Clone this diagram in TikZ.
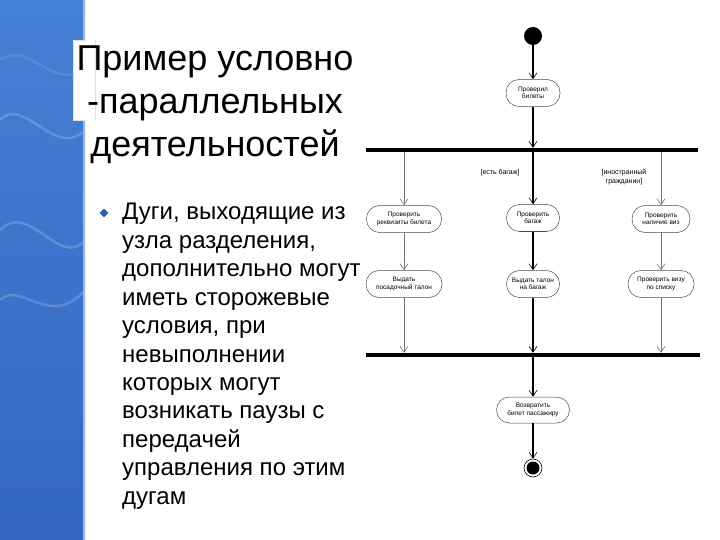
\documentclass[tikz,border=0pt]{standalone}
\usepackage{fontspec}
\setmainfont{Liberation Sans}
\usetikzlibrary{arrows.meta,shapes.geometric}
\definecolor{panelTop}{RGB}{70,128,212}
\definecolor{panelBot}{RGB}{52,102,192}
\definecolor{panelEdge}{RGB}{150,185,230}
\definecolor{bulletBlue}{RGB}{45,95,185}
\begin{document}
\begin{tikzpicture}[x=1pt,y=-1pt,
  act/.style={draw=black!70, line width=0.5pt, rounded corners=13pt, minimum height=27pt,
    align=center, font=\fontsize{6.5}{7.5}\selectfont, inner sep=1pt, fill=white},
  flow/.style={draw=black!55, line width=0.6pt, -{Straight Barb[length=6pt,width=8pt]}},
  trunk/.style={draw=black, line width=1.2pt, -{Straight Barb[length=6pt,width=8pt,line width=0.6pt]}},
  syncbar/.style={fill=black, inner sep=0pt, minimum height=4pt},
  guard/.style={font=\fontsize{7}{8.5}\selectfont, align=center, inner sep=1pt},
  titleline/.style={font=\fontsize{36}{40}\selectfont, anchor=base},
  bodyline/.style={font=\fontsize{24}{28}\selectfont, anchor=base west, inner sep=0pt},
  wave/.style={white, opacity=0.18, line width=2.5pt}
]
\useasboundingbox (0,0) rectangle (720,540);
\fill[white] (0,0) rectangle (720,540);
% left blue panel
\shade[top color=panelTop, bottom color=panelBot] (0,0) rectangle (85,540);
\draw[wave] (0,120) .. controls (25,95) and (55,160) .. (85,130);
\draw[wave] (0,230) .. controls (30,200) and (60,270) .. (85,240);
\draw[wave] (0,300) .. controls (20,280) and (50,330) .. (85,290);
\draw[wave, opacity=0.1] (0,60) .. controls (30,40) and (50,90) .. (85,70);
\draw[panelEdge, line width=1.5pt] (84,0) -- (84,540);
% title box
\fill[white, draw=black!12] (73,40) rectangle (95,120);
\fill[white] (86,0) rectangle (95,540);
% title
\node[titleline] (t1) at (215,71) {Пример условно};
\node[titleline] (t2) at (215,114) {-параллельных};
\node[titleline] (t3) at (215,157) {деятельностей};
% bullet
\node[diamond, fill=bulletBlue, minimum width=9pt, minimum height=9pt, inner sep=0pt] (bul) at (104,213) {};
\node[bodyline] (b01) at (122,220) {Дуги, выходящие из};
\node[bodyline] (b02) at (122,248.4) {узла разделения,};
\node[bodyline] (b03) at (122,276.8) {дополнительно могут};
\node[bodyline] (b04) at (122,305.2) {иметь сторожевые};
\node[bodyline] (b05) at (122,333.6) {условия, при};
\node[bodyline] (b06) at (122,362) {невыполнении};
\node[bodyline] (b07) at (122,390.4) {которых могут};
\node[bodyline] (b08) at (122,418.8) {возникать паузы с};
\node[bodyline] (b09) at (122,447.2) {передачей};
\node[bodyline] (b10) at (122,475.6) {управления по этим};
\node[bodyline] (b11) at (122,504) {дугам};
% diagram
\node[circle, fill=black, minimum size=18pt, inner sep=0pt] (start) at (533,36) {};
\node[act, minimum width=54pt] (n1) at (533,93) {Проверил\\билеты};
\node[syncbar, minimum width=332pt] (fork) at (532,150) {};
\node[act, minimum width=75pt] (a1) at (404,219) {Проверить\\реквизиты билета};
\node[act, minimum width=53pt] (b1) at (533,218) {Проверить\\багаж};
\node[act, minimum width=58pt] (c1) at (661,219) {Проверить\\наличие виз};
\node[act, minimum width=76pt] (a2) at (404,284) {Выдать\\посадочный талон};
\node[act, minimum width=53pt] (b2) at (533,284) {Выдать талон\\на багаж};
\node[act, minimum width=66pt] (c2) at (661,284) {Проверить визу\\по списку};
\node[syncbar, minimum width=334pt] (join) at (533,355) {};
\node[act, minimum width=73pt, minimum height=26pt] (ret) at (533,410) {Возвратить\\билет пассажиру};
\node[circle, draw=black, line width=0.6pt, minimum size=18pt, inner sep=0pt] (end) at (533,468) {};
\node[circle, fill=black, minimum size=13pt, inner sep=0pt] (endin) at (end) {};
\node[guard] (g1) at (500,173) {[есть багаж]};
\node[guard] (g2) at (624,177) {[иностранный\\гражданин]};
% connectors
\draw[trunk] (start) -- (n1);
\draw[trunk] (n1) -- (n1.south |- fork.north);
\draw[flow] (fork.south -| a1.north) -- (a1);
\draw[trunk] (fork.south -| b1.north) -- (b1);
\draw[flow] (fork.south -| c1.north) -- (c1);
\draw[flow] (a1) -- (a2);
\draw[trunk] (b1) -- (b2);
\draw[flow] (c1) -- (c2);
\draw[flow] (a2) -- (a2.south |- join.north);
\draw[trunk] (b2) -- (b2.south |- join.north);
\draw[flow] (c2) -- (c2.south |- join.north);
\draw[trunk] (join.south -| ret.north) -- (ret);
\draw[trunk] (ret) -- (end);
\end{tikzpicture}
\end{document}
